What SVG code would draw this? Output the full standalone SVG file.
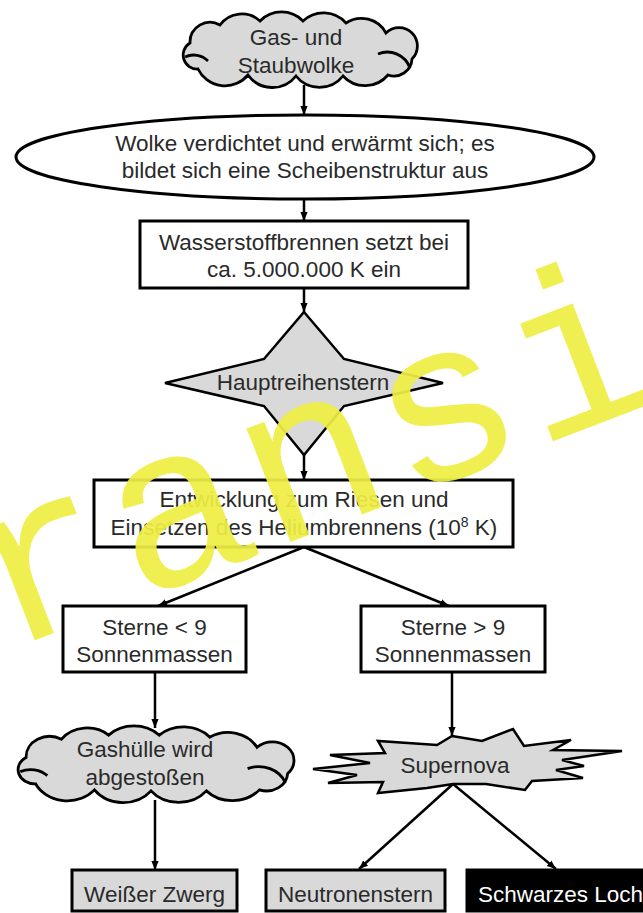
<svg xmlns="http://www.w3.org/2000/svg" width="643" height="913" viewBox="0 0 643 913">
<style>
.t{font-family:"Liberation Sans",Arial,sans-serif;font-size:22.5px;fill:#2a2a2a;text-anchor:middle}
.box{fill:#fff;stroke:#000;stroke-width:3}
.gbox{fill:#d9d9d9;stroke:#000;stroke-width:3}
.shape{fill:#d9d9d9;stroke:#000;stroke-width:2.5;stroke-linejoin:miter}
.cl{fill:#d9d9d9;stroke:#000;stroke-width:2.8}
.ci{fill:none;stroke:#000;stroke-width:2.8}
.con{fill:none;stroke:#000;stroke-width:2.5}
.wm{font-family:"Liberation Mono","DejaVu Sans Mono",monospace;font-size:230px;fill:#eeee44;fill-opacity:0.93}
</style>
<defs>
<marker id="ah" viewBox="0 0 10 10" refX="10" refY="5" markerWidth="9" markerHeight="9" markerUnits="userSpaceOnUse" orient="auto">
<path d="M0,1 L10,5 L0,9 z" fill="#000"/>
</marker>
<g id="cloudShape">
<path class="cl" vector-effect="non-scaling-stroke" d="M20,56 A14,14 0 0 1 12,30 A20,20 0 0 1 42,12 A27,27 0 0 1 82,8 A30,30 0 0 1 125,8 A30,30 0 0 1 168,10 A28,28 0 0 1 208,20 A18,18 0 0 1 234,46 A18,18 0 0 1 210,62 A30,30 0 0 1 165,63 A30,30 0 0 1 118,63 A30,30 0 0 1 70,62 A30,30 0 0 1 20,56 Z"/>
<path class="ci" vector-effect="non-scaling-stroke" d="M200,41 A24,24 0 0 1 232,55"/>
<path class="ci" vector-effect="non-scaling-stroke" d="M7,44 A20,20 0 0 1 30,48"/>
</g>
</defs>

<g id="connectors">
<line class="con" x1="304" y1="85" x2="304" y2="115" marker-end="url(#ah)"/>
<line class="con" x1="304" y1="197" x2="304" y2="221" marker-end="url(#ah)"/>
<line class="con" x1="304" y1="288" x2="304" y2="312" marker-end="url(#ah)"/>
<line class="con" x1="304" y1="455" x2="304" y2="480" marker-end="url(#ah)"/>
<line class="con" x1="304" y1="547" x2="158" y2="606" marker-end="url(#ah)"/>
<line class="con" x1="304" y1="547" x2="449" y2="606" marker-end="url(#ah)"/>
<line class="con" x1="155" y1="672" x2="155" y2="728" marker-end="url(#ah)"/>
<line class="con" x1="452" y1="672" x2="452" y2="736" marker-end="url(#ah)"/>
<line class="con" x1="155" y1="800" x2="155" y2="870" marker-end="url(#ah)"/>
<line class="con" x1="453" y1="784" x2="359" y2="869" marker-end="url(#ah)"/>
<line class="con" x1="453" y1="784" x2="556" y2="869" marker-end="url(#ah)"/>
</g>

<g id="gaswolke">
<use href="#cloudShape" transform="translate(178,13)"/>
<text class="t" x="296" y="45">Gas- und</text>
<text class="t" x="296" y="73">Staubwolke</text>
</g>

<g id="verdichtung">
<ellipse cx="305" cy="157" rx="289" ry="42" fill="#fff" stroke="#000" stroke-width="3"/>
<text class="t" x="305" y="151">Wolke verdichtet und erwärmt sich; es</text>
<text class="t" x="305" y="178">bildet sich eine Scheibenstruktur aus</text>
</g>

<g id="wasserstoff">
<rect class="box" x="140" y="221" width="328" height="67"/>
<text class="t" x="304" y="250">Wasserstoffbrennen setzt bei</text>
<text class="t" x="304" y="277">ca. 5.000.000 K ein</text>
</g>

<g id="hauptreihe">
<path class="shape" d="M304,312 L344,359 L443,383 L344,406 L304,455 L264,406 L165,383 L264,359 Z"/>
<text class="t" x="303" y="390">Hauptreihenstern</text>
</g>

<g id="riese">
<rect class="box" x="94" y="480" width="419" height="67"/>
<text class="t" x="304" y="507">Entwicklung zum Riesen und</text>
<text class="t" x="304" y="535">Einsetzen des Heliumbrennens (10<tspan font-size="14" dy="-8">8</tspan><tspan dy="8"> K)</tspan></text>
</g>

<g id="kleinSterne">
<rect class="box" x="63" y="606" width="183" height="66"/>
<text class="t" x="154.5" y="635">Sterne &lt; 9</text>
<text class="t" x="154.5" y="662">Sonnenmassen</text>
</g>

<g id="grossSterne">
<rect class="box" x="361" y="606" width="184" height="66"/>
<text class="t" x="453" y="635">Sterne &gt; 9</text>
<text class="t" x="453" y="662">Sonnenmassen</text>
</g>

<g id="gashuelle">
<use href="#cloudShape" transform="translate(12,727) scale(1.178,1.014)"/>
<text class="t" x="145" y="757">Gashülle wird</text>
<text class="t" x="145" y="785">abgestoßen</text>
</g>

<g id="supernova">
<path class="shape" d="M452,736 L482,741 L513,729 L524,746 L571,740 L553,750 L622,751 L562,760 L584,766 L556,770 L583,778 L532,781 L525,790 L486,784 L453,784 L427,788 L378,793 L383,782 L328,783 L357,775 L313,769 L370,763 L330,755 L385,753 L378,741 L437,745 Z"/>
<text class="t" x="455" y="773">Supernova</text>
</g>

<g id="weisserZwerg">
<rect class="gbox" x="72" y="870" width="165" height="41"/>
<text class="t" x="154.5" y="902">Weißer Zwerg</text>
</g>

<g id="neutronenstern">
<rect class="gbox" x="266" y="870" width="179" height="41"/>
<text class="t" x="355.5" y="902">Neutronenstern</text>
</g>

<g id="schwarzesLoch">
<rect x="467" y="870" width="180" height="41" fill="#000" stroke="#000" stroke-width="3"/>
<text class="t" x="478" y="902" style="fill:#fff;text-anchor:start">Schwarzes Loch</text>
</g>

<g id="watermark">
<text class="wm" x="4" y="652" letter-spacing="5" transform="rotate(-21 4 652)">ransi</text>
</g>
</svg>
